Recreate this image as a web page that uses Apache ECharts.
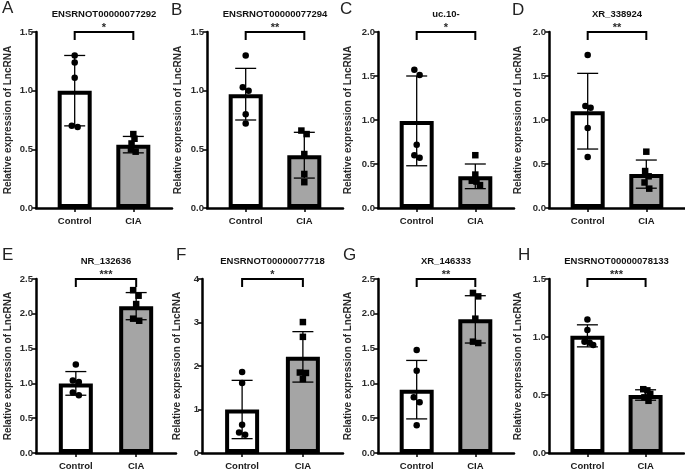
<!DOCTYPE html>
<html><head><meta charset="utf-8">
<script src="https://cdn.jsdelivr.net/npm/echarts@6/dist/echarts.min.js"></script>
<style>html,body{margin:0;padding:0;background:#fff}#c{width:685px;height:471px}</style>
</head><body><div id="c"></div><script>
// ---------- data ----------
const categories = ['Control', 'CIA'];
const panelLetters = ['A', 'B', 'C', 'D', 'E', 'F', 'G', 'H'];
const titles = ['ENSRNOT00000077292', 'ENSRNOT00000077294', 'uc.10-', 'XR_338924',
                'NR_132636', 'ENSRNOT00000077718', 'XR_146333', 'ENSRNOT00000078133'];
const stars = ['*', '**', '*', '**', '***', '*', '**', '***'];
const yMax = [1.5, 1.5, 2, 2, 2.5, 4, 2.5, 1.5];
const yInterval = [0.5, 0.5, 0.5, 0.5, 0.5, 1, 0.5, 0.5];
const controlMean = [1.00, 0.97, 0.99, 1.10, 1.00, 1.00, 0.91, 1.01];
const controlSD = [0.30, 0.22, 0.51, 0.43, 0.17, 0.67, 0.42, 0.095];
const ciaMean = [0.54, 0.45, 0.36, 0.385, 2.11, 2.21, 1.92, 0.50];
const ciaSD = [0.07, 0.195, 0.14, 0.16, 0.195, 0.58, 0.34, 0.045];
const controlPoints = [
  [1.30, 1.24, 1.11, 0.70, 0.69],
  [1.30, 1.03, 1.00, 0.80, 0.72],
  [1.57, 1.51, 0.72, 0.60, 0.57],
  [1.74, 1.16, 1.14, 0.91, 0.58],
  [1.27, 1.04, 1.02, 0.87, 0.83],
  [1.86, 1.61, 0.65, 0.47, 0.42],
  [1.48, 1.18, 0.80, 0.73, 0.40],
  [1.15, 1.06, 0.96, 0.95, 0.93]
];
const ciaPoints = [
  [0.63, 0.59, 0.55, 0.50, 0.48],
  [0.66, 0.63, 0.46, 0.29, 0.22],
  [0.60, 0.38, 0.31, 0.30, 0.26],
  [0.64, 0.42, 0.36, 0.29, 0.22],
  [2.34, 2.26, 2.14, 1.93, 1.90],
  [3.01, 2.67, 1.85, 1.84, 1.70],
  [2.30, 2.25, 1.93, 1.60, 1.58],
  [0.55, 0.54, 0.51, 0.48, 0.45]
];
const controlJitter = [
  [0, 0, 0, -0.05, 0.05],
  [0, -0.05, 0.05, 0, 0],
  [-0.04, 0.05, 0, -0.04, 0.05],
  [0, -0.04, 0.05, 0, 0],
  [0, -0.05, 0.05, -0.05, 0.05],
  [0, 0, 0, -0.05, 0.05],
  [0, 0, -0.05, 0.05, 0],
  [0, 0, -0.05, 0.04, 0.1]
];
const ciaJitter = [
  [0, 0.02, -0.03, -0.04, 0.04],
  [-0.05, 0.04, 0, 0, 0],
  [0, 0, -0.06, 0.02, 0.08],
  [0, -0.02, 0.04, -0.03, 0.05],
  [-0.05, 0.04, 0, -0.05, 0.05],
  [0, 0, -0.05, 0.05, 0],
  [-0.04, 0.05, 0, -0.04, 0.05],
  [-0.04, 0.03, 0.08, -0.02, 0.05]
];

// ---------- layout / style ----------
const FONT = '"Liberation Sans", Arial, sans-serif';
const gridLeft = [36, 207, 378, 549, 36, 202, 378, 549];
const gridWidth = [136, 136, 136, 136, 140, 141, 136, 135];
const gridTop = [32, 32, 32, 32, 279, 279, 279, 279];
const gridHeight = [176, 176, 176, 176, 175, 175, 175, 175];
const nameGaps = [23, 24, 25, 26, 23, 20, 25, 26];
const letterPos = [[2, 0], [171, 2], [340, 1], [512, 2], [2, 247], [176, 247], [343, 247], [518, 247]];
const CIA_GRAY = '#a5a5a5';

const grids = [], xAxes = [], yAxes = [], series = [], graphics = [];
for (let i = 0; i < 8; i++) {
  grids.push({ left: gridLeft[i], top: gridTop[i], width: gridWidth[i], height: gridHeight[i] });
  xAxes.push({
    type: 'value', gridIndex: i, min: -0.66, max: 1.66,
    splitLine: { show: false },
    axisLine: { lineStyle: { color: '#000', width: 2.5 } },
    axisTick: { customValues: [0, 1], length: 4, lineStyle: { color: '#000', width: 1.5 } },
    axisLabel: {
      customValues: [0, 1], formatter: v => categories[Math.round(v)],
      fontFamily: FONT, fontSize: 9.5, fontWeight: 'bold', color: '#1a1a1a', margin: 8
    }
  });
  const dec = yInterval[i] < 1 ? 1 : 0;
  yAxes.push({
    type: 'value', gridIndex: i, min: 0, max: yMax[i], interval: yInterval[i],
    splitLine: { show: false },
    axisLine: { show: true, onZero: false, lineStyle: { color: '#000', width: 2.5 } },
    axisTick: { show: true, length: 4, lineStyle: { color: '#000', width: 1.5 } },
    axisLabel: { formatter: v => v.toFixed(dec), fontFamily: FONT, fontSize: 9.5, fontWeight: 'bold', color: '#2a2a2a', margin: 3 },
    name: 'Relative expression of LncRNA', nameLocation: 'middle', nameRotate: 90, nameGap: nameGaps[i],
    nameTextStyle: { fontFamily: FONT, fontSize: 10, fontWeight: 'bold', color: '#2a2a2a' }
  });
  // bars
  series.push({
    type: 'bar', xAxisIndex: i, yAxisIndex: i, barWidth: 34, z: 2,
    itemStyle: { borderColor: '#000', borderWidth: 4 },
    data: [
      { value: [0, controlMean[i]], itemStyle: { color: '#ffffff' } },
      { value: [1, ciaMean[i]], itemStyle: { color: CIA_GRAY } }
    ]
  });
  // error bars
  series.push({
    type: 'custom', xAxisIndex: i, yAxisIndex: i, z: 3,
    data: [[0, controlMean[i], controlSD[i]], [1, ciaMean[i], ciaSD[i]]],
    encode: { x: 0, y: 1 },
    renderItem: function (params, api) {
      const x = api.value(0), m = api.value(1), sd = api.value(2);
      const t = api.coord([x, m + sd]), b = api.coord([x, m - sd]);
      const h = 10.5, st = { stroke: '#000', lineWidth: 1.3 };
      return { type: 'group', children: [
        { type: 'line', shape: { x1: t[0], y1: t[1], x2: b[0], y2: b[1] }, style: st },
        { type: 'line', shape: { x1: t[0] - h, y1: t[1], x2: t[0] + h, y2: t[1] }, style: st },
        { type: 'line', shape: { x1: b[0] - h, y1: b[1], x2: b[0] + h, y2: b[1] }, style: st }
      ] };
    }
  });
  // points
  series.push({
    type: 'scatter', xAxisIndex: i, yAxisIndex: i, z: 4, symbol: 'circle', symbolSize: 6.5,
    itemStyle: { color: '#000', opacity: 1 },
    data: controlPoints[i].map((v, k) => [0 + controlJitter[i][k], v])
  });
  series.push({
    type: 'scatter', xAxisIndex: i, yAxisIndex: i, z: 4, symbol: 'rect', symbolSize: 6.5,
    itemStyle: { color: '#000', opacity: 1 },
    data: ciaPoints[i].map((v, k) => [1 + ciaJitter[i][k], v])
  });
  // significance bracket + stars + title
  series.push({
    type: 'custom', xAxisIndex: i, yAxisIndex: i, z: 5, clip: false,
    data: [[0, yMax[i], 1]],
    encode: { x: 0, y: 1 },
    renderItem: (function (idx) {
      return function (params, api) {
        const p0 = api.coord([api.value(0), api.value(1)]);
        const p1 = api.coord([api.value(2), api.value(1)]);
        const mid = (p0[0] + p1[0]) / 2;
        return { type: 'group', children: [
          { type: 'polyline', shape: { points: [[p0[0], p0[1] + 8], [p0[0], p0[1]], [p1[0], p1[1]], [p1[0], p1[1] + 8]] },
            style: { stroke: '#000', lineWidth: 2, fill: null } },
          { type: 'text', x: mid, y: p0[1] - 4,
            style: { text: stars[idx], align: 'center', verticalAlign: 'middle', fill: '#2a2a2a',
                     font: 'bold 11px ' + FONT } },
          { type: 'text', x: mid, y: p0[1] - 18,
            style: { text: titles[idx], align: 'center', verticalAlign: 'middle', fill: '#111',
                     font: 'bold 9.5px ' + FONT } }
        ] };
      };
    })(i)
  });
  graphics.push({
    type: 'text', left: letterPos[i][0], top: letterPos[i][1],
    style: { text: panelLetters[i], fill: '#222', font: '17px ' + FONT }
  });
}

const chart = echarts.init(document.getElementById('c'), null, { renderer: 'canvas' });
chart.setOption({
  animation: false,
  backgroundColor: '#fff',
  grid: grids, xAxis: xAxes, yAxis: yAxes, series: series, graphic: graphics
});
</script></body></html>
